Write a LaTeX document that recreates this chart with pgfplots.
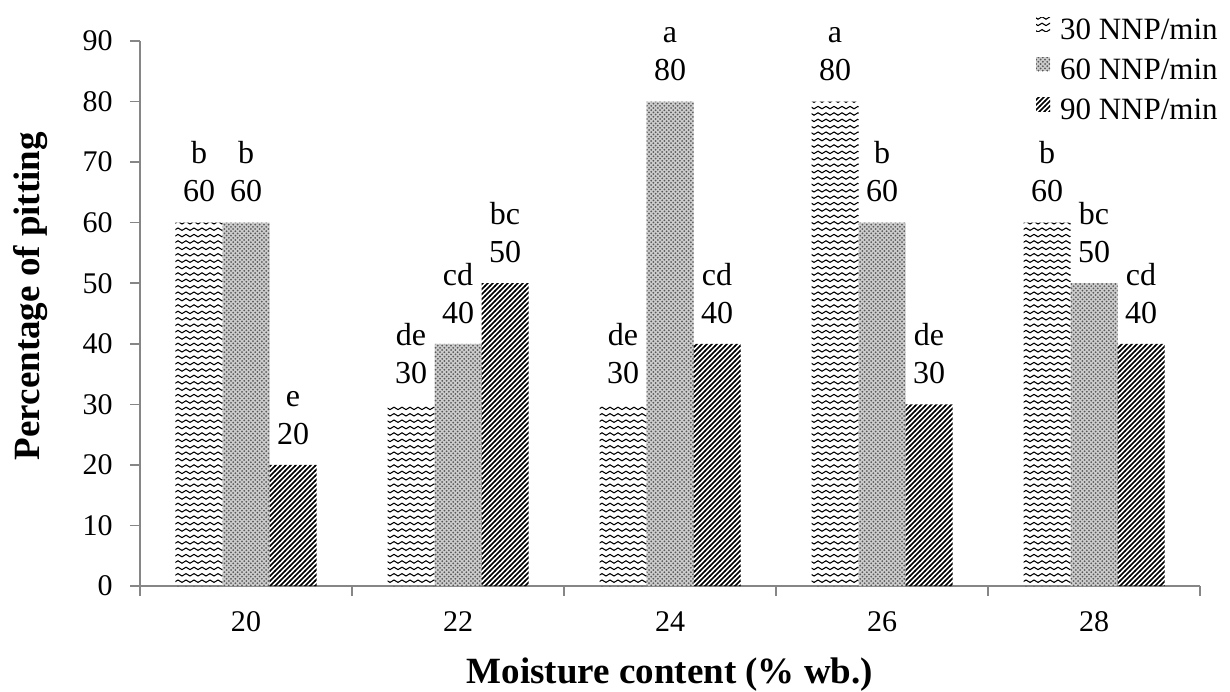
\documentclass[border=0pt]{standalone}
\usepackage{fontspec}
\setmainfont{Liberation Serif}
\usepackage{pgfplots}
\usepackage{pgfplotstable}
\pgfplotsset{compat=1.18}
\usetikzlibrary{patterns}
\definecolor{axisgray}{RGB}{134,134,134}

\pgfdeclarepatternformonly{wavy}{\pgfqpoint{0pt}{-0.6pt}}{\pgfqpoint{4pt}{1.6pt}}{\pgfqpoint{4pt}{3.2pt}}{%
  \pgfsetlinewidth{0.55pt}%
  \pgfpathmoveto{\pgfqpoint{0pt}{0.5pt}}%
  \pgfpathcurveto{\pgfqpoint{0.6pt}{1.3pt}}{\pgfqpoint{1.4pt}{1.3pt}}{\pgfqpoint{2pt}{0.5pt}}%
  \pgfpathcurveto{\pgfqpoint{2.6pt}{-0.3pt}}{\pgfqpoint{3.4pt}{-0.3pt}}{\pgfqpoint{4pt}{0.5pt}}%
  \pgfusepath{stroke}}
\pgfdeclarepatternformonly{nelines}{\pgfqpoint{-1pt}{-1pt}}{\pgfqpoint{3.5pt}{3.5pt}}{\pgfqpoint{2.5pt}{2.5pt}}{%
  \pgfsetlinewidth{0.8pt}%
  \pgfpathmoveto{\pgfqpoint{-0.1pt}{-0.1pt}}%
  \pgfpathlineto{\pgfqpoint{2.6pt}{2.6pt}}%
  \pgfusepath{stroke}}
\pgfdeclarepatternformonly{gdots}{\pgfqpoint{-0.6pt}{-0.6pt}}{\pgfqpoint{2.6pt}{2.6pt}}{\pgfqpoint{2.2pt}{2.2pt}}{%
  \pgfpathcircle{\pgfqpoint{0pt}{0pt}}{0.5pt}%
  \pgfpathcircle{\pgfqpoint{1.1pt}{1.1pt}}{0.5pt}%
  \pgfusepath{fill}}

\pgfplotstableread{
x y lab
0 60 b
1 30 de
2 30 de
3 80 a
4 60 b
}\tabA
\pgfplotstableread{
x y lab
0 60 b
1 40 cd
2 80 a
3 60 b
4 50 bc
}\tabB
\pgfplotstableread{
x y lab
0 20 e
1 50 bc
2 40 cd
3 30 de
4 40 cd
}\tabC

\begin{document}
\begin{tikzpicture}
\useasboundingbox (-70pt,-52.5pt) rectangle (545pt,293pt);
\begin{axis}[
  at={(0,0)}, anchor=south west,
  scale only axis, width=530pt, height=272.5pt,
  xmin=-0.5, xmax=4.5, ymin=0, ymax=90,
  ybar=0pt, bar width=23.5pt,
  clip=false,
  axis x line*=bottom, axis y line*=left,
  axis line style={draw=axisgray, line width=0.8pt, -},
  /pgf/number format/assume math mode=true,
  ytick={0,10,...,90},
  xtick={-0.5,0.5,1.5,2.5,3.5,4.5}, xticklabels={},
  extra x ticks={0,1,2,3,4}, extra x tick labels={20,22,24,26,28},
  extra x tick style={major tick length=0pt},
  tick align=outside, major tick length=5pt,
  tick style={draw=axisgray, line width=0.8pt},
  yticklabel style={font=\fontsize{15}{17}\selectfont, inner sep=0pt, anchor=east, xshift=-8.5pt},
  xticklabel style={font=\fontsize{15}{17}\selectfont, inner sep=0pt, anchor=base, yshift=-22.5pt},
  xlabel={Moisture content (\% wb.)},
  ylabel={Percentage of pitting},
  xlabel style={font=\fontsize{18.5}{22}\selectfont\bfseries, at={(axis description cs:0.5,-0.178)}, anchor=base},
  ylabel style={font=\fontsize{18.5}{22}\selectfont\bfseries, at={(axis description cs:-0.1028,0.532)}, anchor=center},
  point meta=explicit symbolic,
  visualization depends on={y \as \yv},
  nodes near coords={\pgfplotspointmeta\\\pgfmathprintnumber[fixed,precision=0]{\yv}},
  every node near coord/.append style={font=\fontsize{16}{19}\selectfont, align=center, inner sep=0pt, anchor=south, yshift=10pt},
  legend style={draw=none, fill=none, at={(axis description cs:0.8453,1.0440)}, anchor=north west, inner sep=0pt, outer sep=0pt, row sep=5pt, column sep=5pt, font=\fontsize{15.5}{18}\selectfont, nodes={inner sep=0pt, text height=11pt, text depth=4pt}},
  legend cell align=left,
  legend image code/.code={\path[#1] (0pt,0.5pt) rectangle (7pt,7.5pt);},
]
\addplot[draw=none, pattern=wavy, pattern color=black] table[x=x,y=y,meta=lab] {\tabA};
\addlegendentry{30 NNP/min}
\addplot[draw=none, fill=gray!40, postaction={pattern=gdots, pattern color=black!65}] table[x=x,y=y,meta=lab] {\tabB};
\addlegendentry{60 NNP/min}
\addplot[draw=none, pattern=nelines, pattern color=black] table[x=x,y=y,meta=lab] {\tabC};
\addlegendentry{90 NNP/min}
\end{axis}
\end{tikzpicture}
\end{document}
